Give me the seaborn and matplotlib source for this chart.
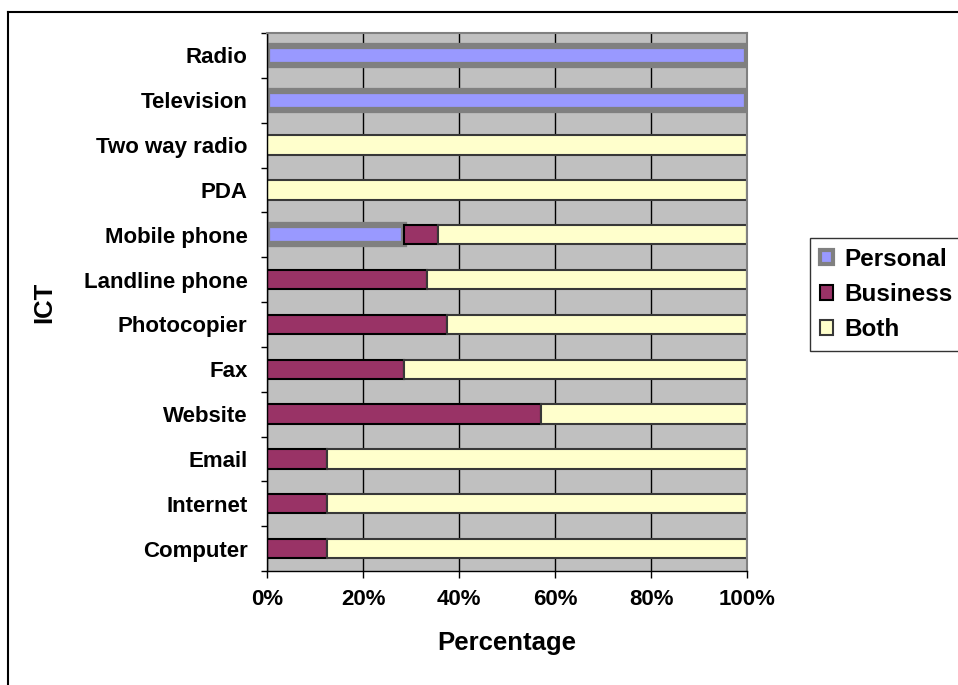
import numpy as np
import pandas as pd
import seaborn as sns
import matplotlib.pyplot as plt
from matplotlib.patches import Patch
from matplotlib.lines import Line2D

# data (percent of respondents), top to bottom as in the chart
ict = ['Radio', 'Television', 'Two way radio', 'PDA', 'Mobile phone', 'Landline phone',
       'Photocopier', 'Fax', 'Website', 'Email', 'Internet', 'Computer']
personal = [100, 100, 0, 0, 28.6, 0, 0, 0, 0, 0, 0, 0]
business = [0, 0, 0, 0, 7.1, 33.3, 37.5, 28.6, 57.1, 12.5, 12.5, 12.5]
both = [0, 0, 100, 100, 64.3, 66.7, 62.5, 71.4, 42.9, 87.5, 87.5, 87.5]

series_names = ['Personal', 'Business', 'Both']
face_colors = ['#9999FF', '#993366', '#FFFFCC']
edge_colors = ['#808080', '#000000', '#383838']
edge_widths = [4.5, 1.5, 1.5]


def main():
    plt.rcParams['font.family'] = ['Liberation Sans', 'DejaVu Sans']
    plt.rcParams['font.weight'] = 'bold'

    df = pd.DataFrame({'ICT': ict, 'Personal': personal, 'Business': business, 'Both': both})

    fig = plt.figure(figsize=(9.58, 6.85), dpi=100)
    ax = fig.add_axes([267 / 958, 1 - 571 / 685, 480 / 958, 538 / 685])
    ax.set_facecolor('#C0C0C0')

    left = np.zeros(len(ict))
    for name, fc, ec, lw in zip(series_names, face_colors, edge_colors, edge_widths):
        vals = df[name].to_numpy()
        ecs = [ec if v > 0 else 'none' for v in vals]
        sns.barplot(data=df, x=name, y='ICT', order=ict, orient='h', color=fc,
                    saturation=1, errorbar=None, width=0.43, left=left,
                    edgecolor=ecs, linewidth=lw, ax=ax)
        left = left + vals

    ax.set_xlim(0, 100)
    ax.set_ylim(len(ict) - 0.5, -0.5)
    ax.set_xticks(np.arange(0, 101, 20))
    ax.set_xticklabels([f'{v}%' for v in range(0, 101, 20)], fontsize=16, fontweight='bold')
    ax.set_yticks(range(len(ict)))
    ax.set_yticklabels(ict, fontsize=16, fontweight='bold')
    ax.set_yticks(np.arange(-0.5, len(ict), 1), minor=True)
    ax.tick_params(axis='y', which='major', length=0, pad=14)
    ax.tick_params(axis='y', which='minor', length=4, width=1, color='black')
    ax.tick_params(axis='x', length=5, width=1, color='black', pad=8)

    ax.grid(axis='x', color='black', linewidth=1)
    ax.set_axisbelow(True)
    for side in ['left', 'bottom']:
        ax.spines[side].set_color('black')
        ax.spines[side].set_linewidth(1)
    for side in ['top', 'right']:
        ax.spines[side].set_color('#808080')
        ax.spines[side].set_linewidth(1.5)

    ax.set_xlabel('Percentage', fontsize=18.5, fontweight='bold')
    ax.set_ylabel('ICT', fontsize=18.5, fontweight='bold')
    ax.xaxis.set_label_coords(0.5, -0.112)
    ax.yaxis.set_label_coords(-0.44, 0.5)

    handles = [Patch(facecolor=fc, edgecolor=ec, linewidth=min(lw, 3))
               for fc, ec, lw in zip(face_colors, edge_colors, edge_widths)]
    leg = fig.legend(handles, series_names, loc='upper left',
                     bbox_to_anchor=(810 / 958, 1 - 238 / 685),
                     prop={'size': 17.5, 'weight': 'bold'},
                     frameon=True, fancybox=False, shadow=False,
                     handlelength=0.55, handleheight=0.55, handletextpad=0.45,
                     labelspacing=0.5, borderpad=0.4, borderaxespad=0)
    leg.get_frame().set_edgecolor('black')
    leg.get_frame().set_linewidth(1)

    # chart area border (cut off at right/bottom in the original)
    fig.add_artist(Line2D([8 / 958, 1], [1 - 12 / 685, 1 - 12 / 685], color='black', linewidth=1.5))
    fig.add_artist(Line2D([8 / 958, 8 / 958], [0, 1 - 12 / 685], color='black', linewidth=1.5))

    fig.savefig('out.png', dpi=100)


if __name__ == "__main__":
    main()
